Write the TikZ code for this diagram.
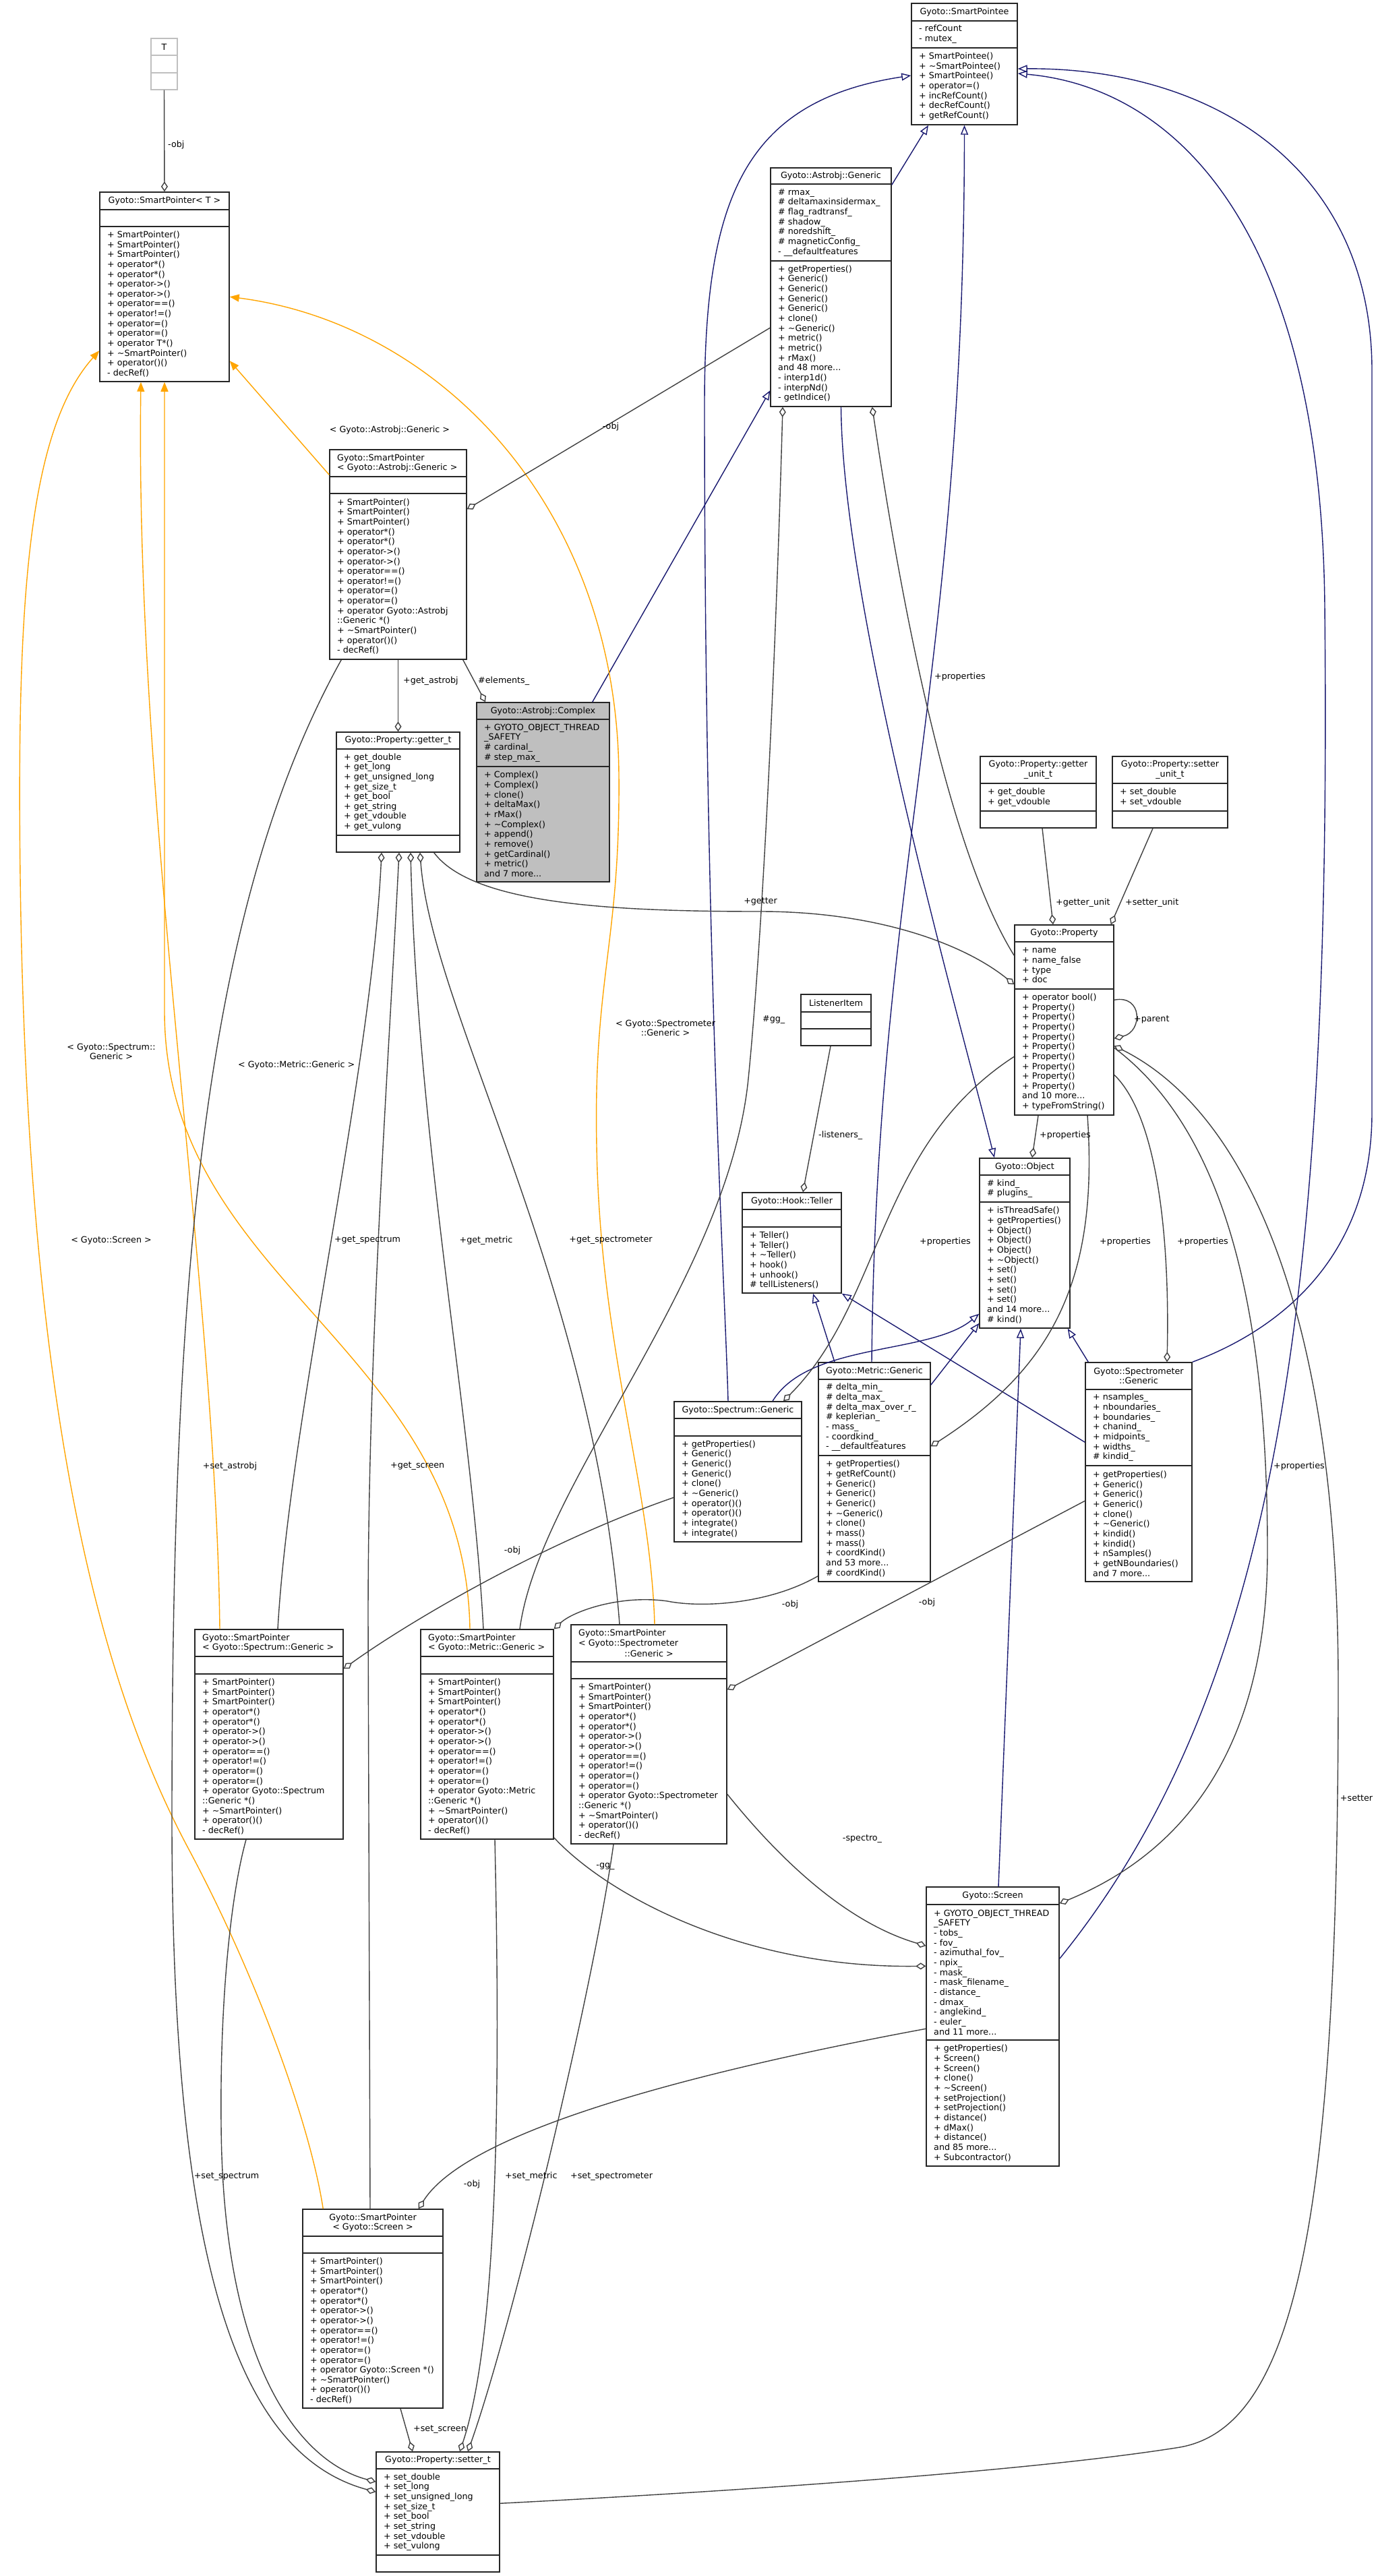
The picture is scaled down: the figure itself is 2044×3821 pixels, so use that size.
\documentclass[tikz,border=0pt]{standalone}
\usepackage{fontspec}
\setmainfont{DejaVu Sans}
\usetikzlibrary{arrows.meta,fit}

\definecolor{edgegray}{HTML}{404040}
\definecolor{inhblue}{HTML}{191970}
\definecolor{tplorange}{HTML}{FFA500}
\definecolor{dimborder}{HTML}{BFBFBF}
\definecolor{curfill}{HTML}{BFBFBF}

\newcommand{\spMethods}{+ SmartPointer()\\+ SmartPointer()\\+ SmartPointer()\\+ operator*()\\+ operator*()\\+ operator->()\\+ operator->()\\+ operator==()\\+ operator!=()\\+ operator=()\\+ operator=()}
\newcommand{\spTail}{+ \textasciitilde SmartPointer()\\+ operator()()\\- decRef()}

% class box: [style] name, x1, y1, x2, y2, end of title row, end of attribute row
\newcommand{\classbox}[8][cls]{%
  \node[#1, fit={(#3,#4) (#5,#6)}] (#2) {};
  \draw[#1, fill=none] (#3,#7) -- (#5,#7) (#3,#8) -- (#5,#8);
  \coordinate (#2-t) at ({(#3+#5)/2},{(#4+#7)/2});
  \coordinate (#2-tw) at ({#3+11},{(#4+#7)/2});
  \coordinate (#2-a) at ({#3+11},{(#7+#8)/2});
  \coordinate (#2-m) at ({#3+11},{(#8+#6)/2});
}

\tikzset{
  every node/.style={font=\fontsize{12.7}{14.66}\selectfont},
  cls/.style={draw=black!85, line width=1.5pt, fill=white, inner sep=0pt},
  clsdim/.style={cls, draw=dimborder},
  clscur/.style={cls, fill=curfill},
  txt/.style={anchor=west, align=left, inner sep=0pt},
  ttl/.style={align=center, inner sep=0pt},
  elbl/.style={inner sep=1pt},
  agg/.style={draw=edgegray, line width=1.4pt, {Diamond[open,length=15pt,width=10pt]}-},
  inh/.style={draw=inhblue, line width=1.4pt, {Triangle[open,length=14pt,width=11pt]}-},
  tpl/.style={draw=tplorange, line width=1.4pt, {Triangle[length=14pt,width=11pt]}-},
}

\begin{document}
\begin{tikzpicture}[x=1pt, y=-1pt]
  \fill[white] (0,0) rectangle (2044,3821);
  \useasboundingbox (0,0) rectangle (2044,3821);

  % classes
  \classbox[clsdim]{T}{224}{57}{263}{133}{82}{108}
  \classbox{spT}{148}{285}{340}{566}{311}{336}
  \classbox{spee}{1352}{5}{1509}{185}{31}{71}
  \classbox{agen}{1143}{249}{1322}{603}{273}{387}
  \classbox{spA}{489}{667}{692}{978}{707}{732}
  \classbox{getter}{499}{1086}{682}{1264}{1111}{1239}
  \classbox[clscur]{cplx}{707}{1042}{904}{1308}{1067}{1137}
  \classbox{gunit}{1454}{1122}{1626}{1228}{1162}{1203}
  \classbox{sunit}{1650}{1122}{1821}{1228}{1162}{1203}
  \classbox{prop}{1505}{1372}{1652}{1654}{1397}{1467}
  \classbox{listen}{1188}{1475}{1292}{1551}{1501}{1526}
  \classbox{teller}{1101}{1769}{1248}{1918}{1794}{1820}
  \classbox{obj}{1453}{1718}{1587}{1970}{1743}{1783}
  \classbox{spec}{1000}{2079}{1189}{2287}{2104}{2130}
  \classbox{metric}{1214}{2021}{1380}{2346}{2046}{2159}
  \classbox{smeter}{1610}{2021}{1768}{2346}{2061}{2174}
  \classbox{spS}{289}{2417}{509}{2728}{2457}{2483}
  \classbox{spM}{624}{2417}{821}{2728}{2457}{2483}
  \classbox{spSm}{847}{2410}{1078}{2735}{2465}{2490}
  \classbox{screen}{1374}{2799}{1571}{3213}{2825}{3026}
  \classbox{spScr}{449}{3277}{657}{3572}{3317}{3342}
  \classbox{setter}{558}{3637}{741}{3815}{3662}{3790}

  \node[ttl] (T-tt) at (T-t) {T};

  \node[ttl] (spT-tt) at (spT-t) {Gyoto::SmartPointer< T >};
  \node[txt] (spT-mt) at (spT-m) {\spMethods\\+ operator T*()\\\spTail};

  \node[ttl] (spee-tt) at (spee-t) {Gyoto::SmartPointee};
  \node[txt] (spee-at) at (spee-a) {- refCount\\- mutex\_};
  \node[txt] (spee-mt) at (spee-m) {+ SmartPointee()\\+ \textasciitilde SmartPointee()\\+ SmartPointee()\\+ operator=()\\+ incRefCount()\\+ decRefCount()\\+ getRefCount()};

  \node[ttl] (agen-tt) at (agen-t) {Gyoto::Astrobj::Generic};
  \node[txt] (agen-at) at (agen-a) {\# rmax\_\\\# deltamaxinsidermax\_\\\# flag\_radtransf\_\\\# shadow\_\\\# noredshift\_\\\# magneticConfig\_\\- \_\_defaultfeatures};
  \node[txt] (agen-mt) at (agen-m) {+ getProperties()\\+ Generic()\\+ Generic()\\+ Generic()\\+ Generic()\\+ clone()\\+ \textasciitilde Generic()\\+ metric()\\+ metric()\\+ rMax()\\and 48 more...\\- interp1d()\\- interpNd()\\- getIndice()};

  \node[txt] (spA-tt) at (spA-tw) {Gyoto::SmartPointer\\< Gyoto::Astrobj::Generic >};
  \node[txt] (spA-mt) at (spA-m) {\spMethods\\+ operator Gyoto::Astrobj\\::Generic *()\\\spTail};

  \node[ttl] (getter-tt) at (getter-t) {Gyoto::Property::getter\_t};
  \node[txt] (getter-at) at (getter-a) {+ get\_double\\+ get\_long\\+ get\_unsigned\_long\\+ get\_size\_t\\+ get\_bool\\+ get\_string\\+ get\_vdouble\\+ get\_vulong};

  \node[ttl] (cplx-tt) at (cplx-t) {Gyoto::Astrobj::Complex};
  \node[txt] (cplx-at) at (cplx-a) {+ GYOTO\_OBJECT\_THREAD\\\_SAFETY\\\# cardinal\_\\\# step\_max\_};
  \node[txt] (cplx-mt) at (cplx-m) {+ Complex()\\+ Complex()\\+ clone()\\+ deltaMax()\\+ rMax()\\+ \textasciitilde Complex()\\+ append()\\+ remove()\\+ getCardinal()\\+ metric()\\and 7 more...};

  \node[ttl] (gunit-tt) at (gunit-t) {Gyoto::Property::getter\\\_unit\_t};
  \node[txt] (gunit-at) at (gunit-a) {+ get\_double\\+ get\_vdouble};
  \node[ttl] (sunit-tt) at (sunit-t) {Gyoto::Property::setter\\\_unit\_t};
  \node[txt] (sunit-at) at (sunit-a) {+ set\_double\\+ set\_vdouble};

  \node[ttl] (prop-tt) at (prop-t) {Gyoto::Property};
  \node[txt] (prop-at) at (prop-a) {+ name\\+ name\_false\\+ type\\+ doc};
  \node[txt] (prop-mt) at (prop-m) {+ operator bool()\\+ Property()\\+ Property()\\+ Property()\\+ Property()\\+ Property()\\+ Property()\\+ Property()\\+ Property()\\+ Property()\\and 10 more...\\+ typeFromString()};

  \node[ttl] (listen-tt) at (listen-t) {ListenerItem};

  \node[ttl] (teller-tt) at (teller-t) {Gyoto::Hook::Teller};
  \node[txt] (teller-mt) at (teller-m) {+ Teller()\\+ Teller()\\+ \textasciitilde Teller()\\+ hook()\\+ unhook()\\\# tellListeners()};

  \node[ttl] (obj-tt) at (obj-t) {Gyoto::Object};
  \node[txt] (obj-at) at (obj-a) {\# kind\_\\\# plugins\_};
  \node[txt] (obj-mt) at (obj-m) {+ isThreadSafe()\\+ getProperties()\\+ Object()\\+ Object()\\+ Object()\\+ \textasciitilde Object()\\+ set()\\+ set()\\+ set()\\+ set()\\and 14 more...\\\# kind()};

  \node[ttl] (spec-tt) at (spec-t) {Gyoto::Spectrum::Generic};
  \node[txt] (spec-mt) at (spec-m) {+ getProperties()\\+ Generic()\\+ Generic()\\+ Generic()\\+ clone()\\+ \textasciitilde Generic()\\+ operator()()\\+ operator()()\\+ integrate()\\+ integrate()};

  \node[ttl] (metric-tt) at (metric-t) {Gyoto::Metric::Generic};
  \node[txt] (metric-at) at (metric-a) {\# delta\_min\_\\\# delta\_max\_\\\# delta\_max\_over\_r\_\\\# keplerian\_\\- mass\_\\- coordkind\_\\- \_\_defaultfeatures};
  \node[txt] (metric-mt) at (metric-m) {+ getProperties()\\+ getRefCount()\\+ Generic()\\+ Generic()\\+ Generic()\\+ \textasciitilde Generic()\\+ clone()\\+ mass()\\+ mass()\\+ coordKind()\\and 53 more...\\\# coordKind()};

  \node[ttl] (smeter-tt) at (smeter-t) {Gyoto::Spectrometer\\::Generic};
  \node[txt] (smeter-at) at (smeter-a) {+ nsamples\_\\+ nboundaries\_\\+ boundaries\_\\+ chanind\_\\+ midpoints\_\\+ widths\_\\\# kindid\_};
  \node[txt] (smeter-mt) at (smeter-m) {+ getProperties()\\+ Generic()\\+ Generic()\\+ Generic()\\+ clone()\\+ \textasciitilde Generic()\\+ kindid()\\+ kindid()\\+ nSamples()\\+ getNBoundaries()\\and 7 more...};

  \node[txt] (spS-tt) at (spS-tw) {Gyoto::SmartPointer\\< Gyoto::Spectrum::Generic >};
  \node[txt] (spS-mt) at (spS-m) {\spMethods\\+ operator Gyoto::Spectrum\\::Generic *()\\\spTail};
  \node[txt] (spM-tt) at (spM-tw) {Gyoto::SmartPointer\\< Gyoto::Metric::Generic >};
  \node[txt] (spM-mt) at (spM-m) {\spMethods\\+ operator Gyoto::Metric\\::Generic *()\\\spTail};
  \node[txt] (spSm-tt) at ([yshift=7pt]spSm-tw) {Gyoto::SmartPointer\\< Gyoto::Spectrometer};
  \node[ttl] (spSm-tt2) at ([yshift=-15pt]spSm-t) {::Generic >};
  \node[txt] (spSm-mt) at (spSm-m) {\spMethods\\+ operator Gyoto::Spectrometer\\::Generic *()\\\spTail};

  \node[ttl] (screen-tt) at (screen-t) {Gyoto::Screen};
  \node[txt] (screen-at) at (screen-a) {+ GYOTO\_OBJECT\_THREAD\\\_SAFETY\\- tobs\_\\- fov\_\\- azimuthal\_fov\_\\- npix\_\\- mask\_\\- mask\_filename\_\\- distance\_\\- dmax\_\\- anglekind\_\\- euler\_\\and 11 more...};
  \node[txt] (screen-mt) at (screen-m) {+ getProperties()\\+ Screen()\\+ Screen()\\+ clone()\\+ \textasciitilde Screen()\\+ setProjection()\\+ setProjection()\\+ distance()\\+ dMax()\\+ distance()\\and 85 more...\\+ Subcontractor()};

  \node[ttl] (spScr-tt) at (spScr-t) {Gyoto::SmartPointer\\< Gyoto::Screen >};
  \node[txt] (spScr-mt) at (spScr-m) {\spMethods\\+ operator Gyoto::Screen *()\\\spTail};

  \node[ttl] (setter-tt) at (setter-t) {Gyoto::Property::setter\_t};
  \node[txt] (setter-at) at (setter-a) {+ set\_double\\+ set\_long\\+ set\_unsigned\_long\\+ set\_size\_t\\+ set\_bool\\+ set\_string\\+ set\_vdouble\\+ set\_vulong};

  % inheritance
  \draw[inh] ([xshift=-53.5pt]spee.south) -- ([yshift=-26pt]agen.north east);
  \draw[inh] (spee.south) .. controls (1430,1000) and (1300,1300) .. ([xshift=-4pt]metric.north);
  \draw[inh] ([yshift=-17pt]spee.west) .. controls (1100,150) and (1045,300) .. (1045,600) .. controls (1045,1400) and (1075,1900) .. ([xshift=-14.5pt]spec.north);
  \draw[inh] ([yshift=-7pt]spee.east) .. controls (1800,100) and (2035,250) .. (2035,550) -- (2035,1650) .. controls (2035,1900) and (1850,1990) .. (smeter.north east);
  \draw[inh] ([yshift=-14pt]spee.east) .. controls (1750,130) and (1960,350) .. (1965,900) .. controls (1975,1900) and (1900,2500) .. ([yshift=-107pt]screen.north east);
  \draw[inh] ([yshift=-331pt]agen.north west) -- ([xshift=-26pt]cplx.north east);
  \draw[inh] ([xshift=-45pt]obj.north) .. controls (1420,1500) and (1250,900) .. ([xshift=15pt]agen.south);
  \draw[inh] ([xshift=31.5pt]teller.south) -- ([xshift=-59pt]metric.north);
  \draw[inh] (teller.south east) -- ([yshift=-119pt]smeter.north west);
  \draw[inh] ([yshift=8pt]obj.south west) -- ([yshift=-34pt]metric.north east);
  \draw[inh] ([yshift=22pt]obj.south west) .. controls (1380,2010) and (1200,1990) .. ([xshift=51.5pt]spec.north);
  \draw[inh] ([xshift=-6pt]obj.south) -- ([xshift=8.5pt]screen.north);
  \draw[inh] ([xshift=-4pt]obj.south east) -- ([xshift=5pt]smeter.north west);

  % template instances
  \draw[tpl] ([yshift=-251pt]spT.north east) -- ([yshift=-38pt]spA.north west);
  \draw[tpl] ([yshift=-156pt]spT.north east) .. controls (650,480) and (915,750) .. (918,1150) .. controls (920,1400) and (880,1450) .. (885,1700) .. controls (890,2000) and (965,2200) .. ([xshift=8.5pt]spSm.north);
  \draw[tpl] (spT.south) -- (244,1500) .. controls (244,1900) and (690,2000) .. ([xshift=-25.5pt]spM.north);
  \draw[tpl] ([xshift=-35pt]spT.south) .. controls (200,1200) and (320,1900) .. ([xshift=-73pt]spS.north);
  \draw[tpl] ([yshift=-236pt]spT.north west) .. controls (40,640) and (25,900) .. (30,1300) .. controls (40,2100) and (150,2500) .. (280,2743) .. controls (380,2930) and (460,3150) .. ([xshift=31pt]spScr.north west);

  % members
  \draw[agg] (spT.north) -- (T.south);
  \draw[agg] ([yshift=-89pt]spA.north east) -- ([yshift=-238pt]agen.north west);
  \draw[agg] (getter.north) -- (spA.south);
  \draw[agg] ([xshift=-85.5pt]cplx.north) -- ([xshift=-6pt]spA.south east);
  \draw[agg] ([yshift=-60pt]setter.north west) .. controls (350,3640) and (255,3350) .. (255,2700) .. controls (255,1900) and (300,1350) .. ([xshift=18pt]spA.south west);
  \draw[agg] ([yshift=-45pt]setter.north west) .. controls (440,3650) and (330,3500) .. (328,3150) .. controls (326,2950) and (345,2800) .. ([xshift=-34pt]spS.south);
  \draw[agg] ([xshift=-24.5pt]getter.south) .. controls (550,1600) and (430,2100) .. ([xshift=13pt]spS.north);
  \draw[agg] ([xshift=1.5pt]getter.south) .. controls (575,1600) and (546,2000) .. (546,2400) -- ([xshift=-4pt]spScr.north);
  \draw[agg] ([xshift=18.5pt]getter.south) .. controls (620,1700) and (700,2100) .. ([xshift=-5.5pt]spM.north);
  \draw[agg] ([xshift=32.5pt]getter.south) .. controls (640,1500) and (880,1900) .. ([xshift=-43.5pt]spSm.north);
  \draw[agg] ([yshift=-89pt]prop.north west) .. controls (1430,1400) and (1300,1352) .. (1128,1352) .. controls (900,1352) and (700,1340) .. ([xshift=-39pt]getter.south east);
  \draw[agg] ([xshift=-16.5pt]prop.north) -- ([xshift=6pt]gunit.south);
  \draw[agg] ([xshift=-5pt]prop.north east) -- ([xshift=-25.5pt]sunit.south);
  \draw[agg] ([yshift=-169pt]prop.north east) .. controls (1695,1530) and (1695,1475) .. ([yshift=-112pt]prop.north east);
  \draw[agg] ([xshift=-29pt]agen.south east) .. controls (1330,850) and (1400,1250) .. ([yshift=-46pt]prop.north west);
  \draw[agg] ([xshift=11pt]obj.north) -- ([xshift=-38.5pt]prop.south);
  \draw[agg] ([xshift=67.5pt]spec.north) .. controls (1310,1930) and (1300,1700) .. ([yshift=-196pt]prop.north west);
  \draw[agg] ([yshift=-125pt]metric.north east) .. controls (1560,2030) and (1630,1900) .. ([xshift=34.5pt]prop.south);
  \draw[agg] ([xshift=42pt]smeter.north) .. controls (1735,1850) and (1720,1660) .. ([yshift=-223pt]prop.north east);
  \draw[agg] ([yshift=-25pt]screen.north east) .. controls (1750,2750) and (1880,2600) .. (1880,2300) .. controls (1880,1950) and (1820,1680) .. ([yshift=-183pt]prop.north east);
  \draw[agg] ([yshift=-180pt]prop.north east) .. controls (1850,1650) and (1985,1950) .. (1985,2500) .. controls (1985,3300) and (1920,3600) .. (1750,3630) .. controls (1500,3670) and (1000,3700) .. ([yshift=-77pt]setter.north east);
  \draw[agg] ([xshift=-37pt]spScr.north east) .. controls (700,3150) and (1100,3060) .. ([yshift=-211pt]screen.north west);
  \draw[agg] ([yshift=-118pt]screen.north west) .. controls (1100,2920) and (900,2810) .. ([yshift=3pt]spM.south east);
  \draw[agg] ([yshift=-88pt]screen.north west) .. controls (1250,2850) and (1150,2750) .. ([yshift=-252pt]spSm.north east);
  \draw[agg] (spM.north east) .. controls (850,2390) and (920,2365) .. (990,2375) .. controls (1040,2385) and (1140,2380) .. ([yshift=9pt]metric.south west);
  \draw[agg] ([yshift=-97pt]spSm.north east) -- ([yshift=-206pt]smeter.north west);
  \draw[agg] ([yshift=-59pt]spS.north east) .. controls (600,2410) and (800,2290) .. ([yshift=-143pt]spec.north west);
  \draw[agg] ([xshift=-37.5pt]setter.north) -- ([xshift=41pt]spScr.south);
  \draw[agg] ([xshift=32.5pt]setter.north) .. controls (745,3450) and (740,3000) .. ([xshift=11.5pt]spM.south);
  \draw[agg] ([xshift=44.5pt]setter.north) .. controls (760,3450) and (880,2950) .. ([xshift=-52.5pt]spSm.south);
  \draw[agg] ([xshift=16.5pt]teller.north) -- ([xshift=-8pt]listen.south);
  \draw[agg] ([xshift=-71.5pt]agen.south) .. controls (1150,1000) and (1130,1400) .. (1110,1600) .. controls (1080,1900) and (800,2200) .. ([xshift=48.5pt]spM.north);

  % edge labels
  \node[elbl, anchor=west] (l-tobj) at (248,215) {-obj};
  \node[elbl] (l-tastro) at (578,638) {< Gyoto::Astrobj::Generic >};
  \node[elbl] (l-aobj) at (906,633) {-obj};
  \node[elbl, anchor=west] (l-getastro) at (597,1010) {+get\_astrobj};
  \node[elbl, anchor=west] (l-elem) at (708,1010) {\#elements\_};
  \node[elbl] (l-getter) at (1128,1337) {+getter};
  \node[elbl, anchor=west] (l-gunit) at (1565,1339) {+getter\_unit};
  \node[elbl, anchor=west] (l-sunit) at (1668,1339) {+setter\_unit};
  \node[elbl, anchor=west] (l-parent) at (1681,1512) {+parent};
  \node[elbl, align=center] (l-tsmeter) at (987,1525) {< Gyoto::Spectrometer\\::Generic >};
  \node[elbl, anchor=west] (l-gg) at (1130,1512) {\#gg\_};
  \node[elbl, align=center] (l-tspec) at (165,1560) {< Gyoto::Spectrum::\\Generic >};
  \node[elbl, anchor=west] (l-tmetric) at (352,1580) {< Gyoto::Metric::Generic >};
  \node[elbl, anchor=west] (l-listen) at (1213,1684) {-listeners\_};
  \node[elbl, anchor=west] (l-pobj) at (1541,1684) {+properties};
  \node[elbl, anchor=west] (l-pagen) at (1385,1004) {+properties};
  \node[elbl] (l-tscreen) at (165,1840) {< Gyoto::Screen >};
  \node[elbl] (l-getspec) at (545,1840) {+get\_spectrum};
  \node[elbl] (l-getmetric) at (721,1840) {+get\_metric};
  \node[elbl] (l-getsmeter) at (906,1840) {+get\_spectrometer};
  \node[elbl, anchor=west] (l-pspec) at (1363,1842) {+properties};
  \node[elbl, anchor=west] (l-pmetric) at (1630,1842) {+properties};
  \node[elbl, anchor=west] (l-psmeter) at (1745,1842) {+properties};
  \node[elbl] (l-setastro) at (341,2175) {+set\_astrobj};
  \node[elbl, anchor=west] (l-getscreen) at (578,2175) {+get\_screen};
  \node[elbl, anchor=west] (l-pscreen) at (1888,2175) {+properties};
  \node[elbl] (l-specobj) at (760,2300) {-obj};
  \node[elbl] (l-metobj) at (1172,2380) {-obj};
  \node[elbl] (l-smobj) at (1375,2377) {-obj};
  \node[elbl] (l-setter) at (2012,2667) {+setter};
  \node[elbl] (l-spectro) at (1279,2728) {-spectro\_};
  \node[elbl] (l-gg2) at (898,2768) {-gg\_};
  \node[elbl] (l-setspec) at (336,3228) {+set\_spectrum};
  \node[elbl, anchor=west] (l-setmetric) at (748,3228) {+set\_metric};
  \node[elbl, anchor=west] (l-setsmeter) at (845,3228) {+set\_spectrometer};
  \node[elbl] (l-scrobj) at (700,3240) {-obj};
  \node[elbl, anchor=west] (l-setscreen) at (612,3603) {+set\_screen};
\end{tikzpicture}
\end{document}
